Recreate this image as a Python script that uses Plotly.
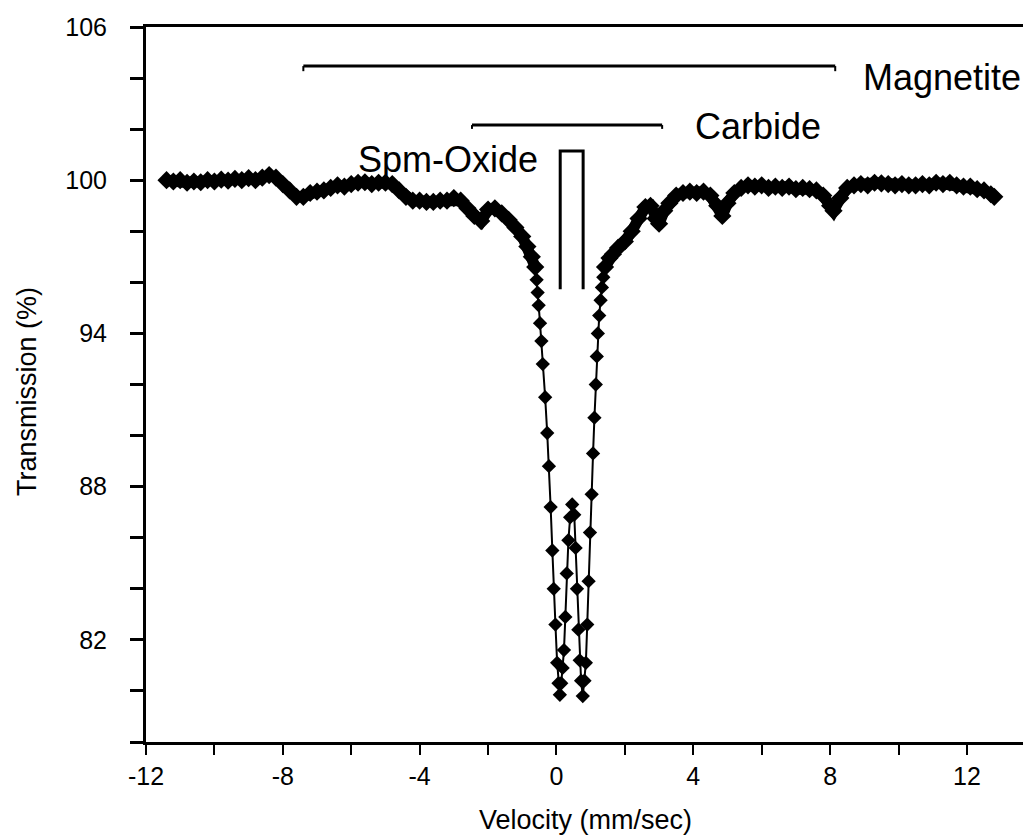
import plotly.graph_objects as go

# Mössbauer spectrum, velocity (mm/sec) vs transmission (%), in three parts:
# the broad left wing, the central doublet and the broad right wing.
left_velocity = [
    -11.4, -11.2, -11.0, -10.8, -10.6, -10.4, -10.2, -10.0, -9.8, -9.6,
    -9.4, -9.2, -9.0, -8.8, -8.6, -8.4, -8.2, -8.0, -7.8, -7.6,
    -7.4, -7.2, -7.0, -6.8, -6.6, -6.4, -6.2, -6.0, -5.8, -5.6,
    -5.4, -5.2, -5.0, -4.8, -4.6, -4.4, -4.2, -4.0, -3.8, -3.6,
    -3.4, -3.2, -3.0, -2.8, -2.6, -2.4, -2.2, -2.0, -1.8, -1.6,
    -1.4, -1.2, -1.0, -0.85, -0.72, -0.62,
]
left_transmission = [
    100.0, 99.95, 100.0, 99.9, 99.95, 99.92, 100.0, 99.95, 100.02, 99.98,
    100.05, 100.0, 100.08, 100.0, 100.1, 100.2, 100.1, 99.85, 99.6, 99.35,
    99.35, 99.5, 99.55, 99.6, 99.7, 99.8, 99.75, 99.85, 99.9, 99.92,
    99.85, 99.9, 99.9, 99.85, 99.6, 99.35, 99.2, 99.2, 99.15, 99.15,
    99.2, 99.2, 99.3, 99.2, 98.9, 98.6, 98.4, 98.85, 98.9, 98.7,
    98.45, 98.15, 97.8, 97.4, 97.0, 96.6,
]
center_velocity = [
    -0.58, -0.55, -0.52, -0.48, -0.44, -0.40, -0.33, -0.27, -0.22, -0.17,
    -0.12, -0.08, -0.03, 0.02, 0.06, 0.10,
    0.14, 0.18, 0.22, 0.26, 0.30, 0.35, 0.40, 0.46, 0.52, 0.56,
    0.60, 0.64, 0.68, 0.72, 0.77,
    0.82, 0.86, 0.90, 0.94, 0.98, 1.03, 1.07, 1.11, 1.15, 1.18,
    1.21, 1.25, 1.29, 1.33, 1.37,
]
center_transmission = [
    96.1, 95.6, 95.1, 94.4, 93.7, 92.8, 91.5, 90.1, 88.8, 87.2,
    85.5, 84.0, 82.6, 81.1, 80.3, 79.85,
    80.3, 80.9, 81.6, 82.9, 84.6, 85.9, 86.8, 87.3, 86.9, 85.6,
    84.0, 82.4, 81.2, 80.4, 79.8,
    80.4, 81.1, 82.6, 84.3, 86.2, 87.7, 89.3, 90.7, 92.0, 93.1,
    94.0, 94.7, 95.3, 95.8, 96.2,
]
right_velocity = [
    1.42, 1.55, 1.65, 1.8, 2.0, 2.2, 2.4, 2.6, 2.75, 2.9, 3.0,
    3.15, 3.3, 3.5, 3.7, 3.9, 4.1, 4.3, 4.5, 4.7, 4.85,
    5.0, 5.2, 5.4, 5.6, 5.8, 6.0, 6.2, 6.4, 6.6, 6.8,
    7.0, 7.2, 7.4, 7.6, 7.8, 8.0, 8.1, 8.3, 8.5, 8.7,
    8.9, 9.1, 9.3, 9.5, 9.7, 9.9, 10.1, 10.3, 10.5, 10.7,
    10.9, 11.1, 11.3, 11.5, 11.7, 11.9, 12.1, 12.3, 12.5, 12.7, 12.8,
]
right_transmission = [
    96.6, 96.95, 97.1, 97.35, 97.6, 98.0, 98.5, 98.95, 99.0, 98.5, 98.3,
    98.8, 99.1, 99.4, 99.5, 99.55, 99.5, 99.55, 99.4, 99.0, 98.6,
    99.1, 99.5, 99.7, 99.8, 99.75, 99.8, 99.7, 99.75, 99.7, 99.75,
    99.65, 99.7, 99.65, 99.6, 99.4, 99.0, 98.8, 99.3, 99.7, 99.8,
    99.85, 99.8, 99.9, 99.88, 99.85, 99.8, 99.85, 99.8, 99.8, 99.85,
    99.8, 99.9, 99.85, 99.9, 99.8, 99.75, 99.75, 99.65, 99.6, 99.45, 99.35,
]

# Axis ticks
x_tick_vals = [-12, -8, -4, 0, 4, 8, 12]
x_tick_text = ["-12", "-8", "-4", "0", "4", "8", "12"]
x_minor_vals = [-10, -6, -2, 2, 6, 10]
y_tick_vals = [82, 88, 94, 100, 106]
y_tick_text = ["82", "88", "94", "100", "106"]
y_minor_vals = [78, 80, 84, 86, 90, 92, 96, 98, 102, 104]

# Component markers: (start, end, level) in data units
magnetite_bar = (-7.4, 8.15, 104.47)
carbide_bar = (-2.47, 3.09, 102.16)
spm_oxide_doublet = (0.11, 0.78, 101.14, 95.73)

FONT = "Liberation Sans, Arial, Helvetica, sans-serif"

fig = go.Figure()
# Dense wing channels merge into a thick band
for vx, ty in ((left_velocity, left_transmission), (right_velocity, right_transmission)):
    fig.add_trace(go.Scatter(
        x=vx, y=ty, mode="lines+markers",
        line=dict(color="black", width=11, shape="linear"),
        marker=dict(symbol="diamond", size=14, color="black"),
        showlegend=False, cliponaxis=False,
    ))
# Central doublet with fitted line through the channels
fig.add_trace(go.Scatter(
    x=[left_velocity[-1]] + center_velocity + [right_velocity[0]],
    y=[left_transmission[-1]] + center_transmission + [right_transmission[0]],
    mode="lines+markers",
    line=dict(color="black", width=2),
    marker=dict(symbol="diamond", size=11, color="black"),
    showlegend=False, cliponaxis=False,
))

shapes = []
# Magnetite sextet span
x0, x1, yl = magnetite_bar
shapes.append(dict(type="line", x0=x0, x1=x1, y0=yl, y1=yl, line=dict(color="black", width=3)))
shapes.append(dict(type="line", x0=x0, x1=x0, y0=yl, y1=yl - 0.2, line=dict(color="black", width=2)))
shapes.append(dict(type="line", x0=x1, x1=x1, y0=yl, y1=yl - 0.2, line=dict(color="black", width=2)))
# Carbide span
x0, x1, yl = carbide_bar
shapes.append(dict(type="line", x0=x0, x1=x1, y0=yl, y1=yl, line=dict(color="black", width=3)))
shapes.append(dict(type="line", x0=x0, x1=x0, y0=yl, y1=yl - 0.15, line=dict(color="black", width=2)))
shapes.append(dict(type="line", x0=x1, x1=x1, y0=yl, y1=yl - 0.15, line=dict(color="black", width=2)))
# Superparamagnetic oxide doublet bracket
x0, x1, ytop, ybot = spm_oxide_doublet
shapes.append(dict(type="path",
                   path=f"M {x0},{ybot} L {x0},{ytop} L {x1},{ytop} L {x1},{ybot}",
                   line=dict(color="black", width=3)))

label_font = dict(size=36, color="black", family=FONT)
title_font = dict(size=27, color="black", family=FONT)
annotations = [
    dict(x=8.9, y=104.04, xref="x", yref="y", text="Magnetite", showarrow=False,
         xanchor="left", yanchor="middle", font=label_font),
    dict(x=4.0, y=102.1, xref="x", yref="y", text="Carbide", showarrow=False,
         xanchor="left", yanchor="middle", font=label_font),
    dict(x=-0.48, y=100.8, xref="x", yref="y", text="Spm-Oxide", showarrow=False,
         xanchor="right", yanchor="middle", font=label_font),
    dict(x=-0.1357, y=0.491, xref="paper", yref="paper", text="Transmission (%)",
         showarrow=False, textangle=-90, xanchor="center", yanchor="middle",
         font=title_font),
    dict(x=0.5006, y=-0.1091, xref="paper", yref="paper", text="Velocity (mm/sec)",
         showarrow=False, xanchor="center", yanchor="middle", font=title_font),
]

fig.update_layout(
    width=1025, height=839,
    margin=dict(l=146, r=2, t=27, b=97),
    paper_bgcolor="white", plot_bgcolor="white",
    shapes=shapes, annotations=annotations,
    font=dict(family=FONT, color="black"),
)
fig.update_xaxes(
    range=[-12, 13.64], showgrid=False, zeroline=False,
    showline=True, linecolor="black", linewidth=2.5, mirror=True,
    tickmode="array", tickvals=x_tick_vals, ticktext=x_tick_text,
    ticks="outside", ticklen=10, tickwidth=2, tickcolor="black",
    tickfont=dict(size=25, family=FONT, color="black"),
    minor=dict(tickmode="array", tickvals=x_minor_vals, ticks="outside",
               ticklen=10, tickwidth=2, tickcolor="black", showgrid=False),
)
fig.update_yaxes(
    range=[78, 106], showgrid=False, zeroline=False,
    showline=True, linecolor="black", linewidth=3,
    tickmode="array", tickvals=y_tick_vals, ticktext=y_tick_text,
    ticks="outside", ticklen=13, tickwidth=2.5, tickcolor="black",
    ticklabelstandoff=18,
    tickfont=dict(size=25, family=FONT, color="black"),
    minor=dict(tickmode="array", tickvals=y_minor_vals, ticks="outside",
               ticklen=13, tickwidth=2.5, tickcolor="black", showgrid=False),
)

fig.write_html("out.html")
